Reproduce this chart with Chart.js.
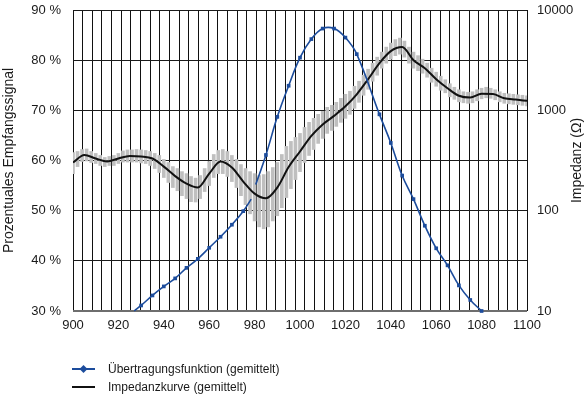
<!DOCTYPE html>
<html lang="de">
<head>
<meta charset="utf-8">
<title>Übertragungsfunktion und Impedanzkurve</title>
<script src="https://cdn.jsdelivr.net/npm/chart.js@4.4.1/dist/chart.umd.min.js"></script>
<style>
  html, body { margin: 0; padding: 0; background: #fff; }
  #chartBox { width: 585px; height: 396px; }
</style>
</head>
<body>
<div id="chartBox"><canvas id="impedanzChart"></canvas></div>
<script>
// Übertragungsfunktion (gemittelt), linke Achse in %
// null = Lücke zwischen den zwei Kurvenstücken
const transferX = [927, 930, 935, 940, 945, 950, 955, 960, 965, 970, 975, 978.5, 979.5, 980.5,
    985, 990, 995, 1000, 1005, 1010, 1015, 1020, 1025, 1035, 1040, 1045, 1050, 1055,
    1060, 1065, 1070, 1075, 1080];
const transferY = [30.0, 31.1, 33.1, 34.9, 36.5, 38.6, 40.4, 42.6, 44.8, 47.2, 49.9, 52.3, null, 55.2,
    61.1, 68.7, 74.9, 80.5, 84.2, 86.3, 86.3, 84.5, 81.2, 69.2, 63.5, 57.0, 52.3, 47.0,
    42.5, 39.1, 35.1, 32.2, 30.0];

// Impedanzkurve (gemittelt), rechte Achse in Ohm
const impedanceX = [900, 905, 910, 915, 920, 925, 930, 935, 940, 945, 950, 955, 960, 965, 970,
    975, 980, 985, 990, 995, 1000, 1005, 1010, 1015, 1020, 1025, 1030, 1035, 1040, 1045,
    1050, 1055, 1060, 1065, 1070, 1075, 1080, 1085, 1090, 1095, 1100];
const impedanceY = [302, 359, 331, 309, 331, 351, 347, 331, 275, 221, 186, 170, 234, 309, 269,
    195, 148, 133, 170, 272, 389, 556, 724, 881, 1096, 1445, 2042, 2951, 3890, 4266,
    3162, 2630, 2042, 1660, 1396, 1340, 1462, 1455, 1318, 1279, 1245];

// graue Streubalken um die Impedanzkurve (min / max in Ohm)
const spreadX = [900, 902, 904, 906, 908, 910, 912, 914, 916, 918,
    920, 922, 924, 926, 928, 930, 932, 934, 936, 938,
    940, 942, 944, 946, 948, 950, 952, 954, 956, 958,
    960, 962, 964, 966, 968, 970, 972, 974, 976, 978,
    980, 982, 984, 986, 988, 990, 992, 994, 996, 998,
    1000, 1002, 1004, 1006, 1008, 1010, 1012, 1014, 1016, 1018,
    1020, 1022, 1024, 1026, 1028, 1030, 1032, 1034, 1036, 1038,
    1040, 1042, 1044, 1046, 1048, 1050, 1052, 1054, 1056, 1058,
    1060, 1062, 1064, 1066, 1068, 1070, 1072, 1074, 1076, 1078,
    1080, 1082, 1084, 1086, 1088, 1090, 1092, 1094, 1096, 1098, 1100];
const spreadLow = [234, 275, 309, 313, 302, 295, 282, 275, 282, 282,
    295, 305, 305, 305, 305, 299, 295, 282, 263, 240,
    214, 191, 170, 158, 141, 132, 123, 122, 132, 155,
    178, 214, 234, 234, 219, 195, 170, 141, 115, 93,
    79, 69, 66, 69, 79, 89, 107, 135, 166, 204,
    245, 302, 355, 407, 468, 525, 589, 631, 692, 759,
    832, 912, 1047, 1202, 1413, 1622, 1950, 2239, 2630, 2951,
    3236, 3508, 3631, 3388, 2951, 2630, 2483, 2344, 2138, 1905,
    1738, 1585, 1496, 1365, 1288, 1216, 1189, 1175, 1189, 1245,
    1303, 1334, 1318, 1274, 1216, 1175, 1161, 1148, 1135, 1122, 1109];
const spreadHigh = [380, 389, 407, 412, 389, 372, 355, 339, 347, 355,
    372, 394, 403, 403, 407, 403, 398, 389, 372, 355,
    324, 302, 275, 263, 245, 234, 219, 211, 224, 263,
    309, 363, 398, 407, 389, 355, 324, 288, 263, 245,
    234, 224, 229, 245, 269, 302, 363, 437, 490, 537,
    589, 676, 759, 832, 912, 977, 1072, 1122, 1202, 1318,
    1445, 1549, 1738, 1950, 2239, 2570, 2951, 3388, 3802, 4266,
    4677, 5070, 5248, 4898, 4266, 3802, 3508, 3236, 2951, 2630,
    2399, 2188, 2018, 1841, 1698, 1603, 1531, 1514, 1531, 1603,
    1660, 1698, 1660, 1603, 1531, 1479, 1462, 1445, 1429, 1413, 1396];

// Achsenbeschriftungen
const percentTicks = [30, 40, 50, 60, 70, 80, 90];
const ohmTicks = [10, 100, 1000, 10000];

const textColor = '#1a1a1a';
const blue = '#1c4c9c';
const fontFamily = '"Liberation Sans", Arial, Helvetica, sans-serif';

Chart.defaults.font.family = fontFamily;
Chart.defaults.font.size = 13;
Chart.defaults.color = textColor;

// rechter Achsentitel (von unten nach oben) und Legende unten
const extrasPlugin = {
    id: 'extras',
    afterDraw(chart) {
        const ctx = chart.ctx;
        const area = chart.chartArea;

        ctx.save();
        ctx.font = '14px ' + fontFamily;
        ctx.fillStyle = textColor;
        ctx.textAlign = 'center';
        ctx.textBaseline = 'middle';
        ctx.translate(577, (area.top + area.bottom) / 2);
        ctx.rotate(-Math.PI / 2);
        ctx.fillText('Impedanz (Ω)', 0, 0);
        ctx.restore();

        // Legende
        const items = chart.data.datasets.filter(ds => ds.label);
        ctx.save();
        ctx.font = '12px ' + fontFamily;
        ctx.textAlign = 'left';
        ctx.textBaseline = 'middle';
        items.forEach((ds, i) => {
            const y = 369 + i * 18;
            ctx.strokeStyle = ds.borderColor;
            ctx.lineWidth = 2;
            ctx.beginPath();
            ctx.moveTo(72, y);
            ctx.lineTo(95, y);
            ctx.stroke();
            if (ds.legendMarker) {
                ctx.fillStyle = ds.borderColor;
                ctx.beginPath();
                ctx.moveTo(83.5, y - 4);
                ctx.lineTo(87.5, y);
                ctx.lineTo(83.5, y + 4);
                ctx.lineTo(79.5, y);
                ctx.closePath();
                ctx.fill();
            }
            ctx.fillStyle = textColor;
            ctx.fillText(ds.label, 108, y + 1);
        });
        ctx.restore();
    }
};

function buildChart() {
    const transferData = transferX.map((x, i) => ({ x: x, y: transferY[i] }));
    const impedanceData = impedanceX.map((x, i) => ({ x: x, y: impedanceY[i] }));
    const spreadData = spreadX.map((x, i) => ({ x: x, y: [spreadLow[i], spreadHigh[i]] }));

    const ctx = document.getElementById('impedanzChart').getContext('2d');
    new Chart(ctx, {
        type: 'line',
        data: {
            datasets: [
                {
                    label: 'Übertragungsfunktion (gemittelt)',
                    data: transferData,
                    xAxisID: 'x',
                    yAxisID: 'y',
                    borderColor: blue,
                    backgroundColor: blue,
                    borderWidth: 1.6,
                    tension: 0.4,
                    spanGaps: false,
                    pointStyle: 'rect',
                    pointRadius: c => (c.raw && c.raw.x % 5 === 0 ? 2.6 : 0),
                    pointBorderWidth: 0,
                    legendMarker: true,
                    clip: 4,
                    order: 1
                },
                {
                    label: 'Impedanzkurve (gemittelt)',
                    data: impedanceData,
                    xAxisID: 'x',
                    yAxisID: 'yR',
                    borderColor: '#111111',
                    borderWidth: 2,
                    pointRadius: 0,
                    cubicInterpolationMode: 'monotone',
                    order: 2
                },
                {
                    type: 'bar',
                    data: spreadData,
                    xAxisID: 'x',
                    yAxisID: 'yR',
                    backgroundColor: '#bfbfbf',
                    borderWidth: 0,
                    barThickness: 3,
                    order: 3
                }
            ]
        },
        options: {
            responsive: true,
            maintainAspectRatio: false,
            animation: false,
            devicePixelRatio: 1,
            layout: { padding: { top: 10, right: 0, bottom: 60, left: 0 } },
            plugins: {
                legend: { display: false },
                tooltip: { enabled: false }
            },
            scales: {
                x: {
                    type: 'linear',
                    position: 'bottom',
                    min: 900,
                    max: 1100,
                    offset: false,
                    grid: { display: false, offset: false, drawTicks: false },
                    border: { display: false },
                    ticks: { stepSize: 20, padding: 7, maxRotation: 0, autoSkip: false, callback: v => String(v) },
                    afterFit: s => { s.height = 25; }
                },
                // nur für die dichten senkrechten Gitterlinien
                xg: {
                    type: 'linear',
                    position: 'bottom',
                    min: 900,
                    max: 1100,
                    offset: false,
                    grid: { color: '#111111', lineWidth: 1, drawTicks: false, offset: false },
                    border: { display: false },
                    ticks: { display: false },
                    afterBuildTicks: s => {
                        s.ticks = Array.from({ length: 48 }, (_, i) => ({ value: 900 + i * 200 / 47 }));
                    },
                    afterFit: s => { s.height = 0; }
                },
                y: {
                    type: 'linear',
                    position: 'left',
                    min: 30,
                    max: 90,
                    grid: {
                        drawTicks: true,
                        tickLength: 12,
                        tickColor: 'rgba(0,0,0,0)',
                        color: c => (c.index === 0 ? '#6e6e6e' : '#1a1a1a'),
                        lineWidth: c => (c.index === 0 ? 2 : 1)
                    },
                    border: { display: false },
                    afterBuildTicks: s => { s.ticks = percentTicks.map(v => ({ value: v })); },
                    ticks: { padding: 0, callback: v => v + ' %' },
                    title: {
                        display: true,
                        text: 'Prozentuales Empfangssignal',
                        font: { size: 14 },
                        color: textColor,
                        padding: { top: 1, bottom: 0 }
                    },
                    afterFit: s => { s.width = 73; }
                },
                yR: {
                    type: 'logarithmic',
                    position: 'right',
                    min: 10,
                    max: 10000,
                    grid: { display: false, drawTicks: true, tickLength: 10 },
                    border: { display: false },
                    afterBuildTicks: s => { s.ticks = ohmTicks.map(v => ({ value: v })); },
                    ticks: { padding: 0, callback: v => String(v) },
                    afterFit: s => { s.width = 58; }
                }
            }
        },
        plugins: [extrasPlugin]
    });
}

document.addEventListener('DOMContentLoaded', buildChart);
</script>
</body>
</html>
